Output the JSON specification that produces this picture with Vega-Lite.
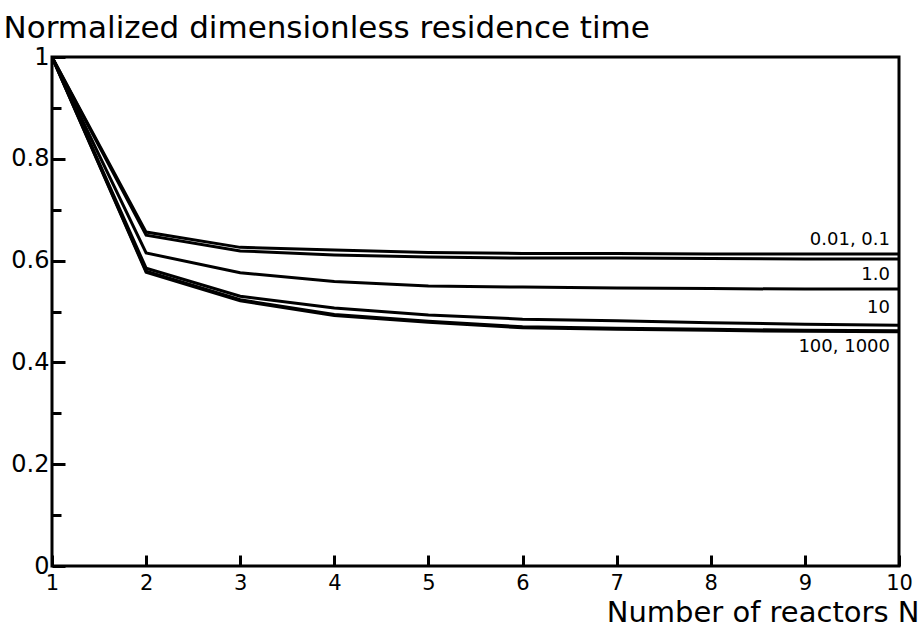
{
  "$schema": "https://vega.github.io/schema/vega-lite/v6.json",
  "width": 847,
  "height": 509,
  "autosize": {"type": "none"},
  "padding": {"left": 52, "top": 57, "right": 24, "bottom": 61},
  "background": "white",
  "config": {
    "font": "DejaVu Sans",
    "view": {"stroke": "black", "strokeWidth": 3},
    "axis": {"domain": false, "grid": false}
  },
  "datasets": {
    "curves": [
      {"series": "0.01", "N": 1, "t": 1}, {"series": "0.01", "N": 2, "t": 0.656}, {"series": "0.01", "N": 3, "t": 0.626}, {"series": "0.01", "N": 4, "t": 0.621}, {"series": "0.01", "N": 5, "t": 0.616}, {"series": "0.01", "N": 6, "t": 0.614}, {"series": "0.01", "N": 7, "t": 0.614}, {"series": "0.01", "N": 8, "t": 0.613}, {"series": "0.01", "N": 9, "t": 0.613}, {"series": "0.01", "N": 10, "t": 0.613},
      {"series": "0.1", "N": 1, "t": 1}, {"series": "0.1", "N": 2, "t": 0.650}, {"series": "0.1", "N": 3, "t": 0.619}, {"series": "0.1", "N": 4, "t": 0.611}, {"series": "0.1", "N": 5, "t": 0.607}, {"series": "0.1", "N": 6, "t": 0.605}, {"series": "0.1", "N": 7, "t": 0.605}, {"series": "0.1", "N": 8, "t": 0.604}, {"series": "0.1", "N": 9, "t": 0.603}, {"series": "0.1", "N": 10, "t": 0.603},
      {"series": "1.0", "N": 1, "t": 1}, {"series": "1.0", "N": 2, "t": 0.615}, {"series": "1.0", "N": 3, "t": 0.576}, {"series": "1.0", "N": 4, "t": 0.559}, {"series": "1.0", "N": 5, "t": 0.550}, {"series": "1.0", "N": 6, "t": 0.548}, {"series": "1.0", "N": 7, "t": 0.546}, {"series": "1.0", "N": 8, "t": 0.545}, {"series": "1.0", "N": 9, "t": 0.544}, {"series": "1.0", "N": 10, "t": 0.544},
      {"series": "10", "N": 1, "t": 1}, {"series": "10", "N": 2, "t": 0.585}, {"series": "10", "N": 3, "t": 0.530}, {"series": "10", "N": 4, "t": 0.507}, {"series": "10", "N": 5, "t": 0.493}, {"series": "10", "N": 6, "t": 0.485}, {"series": "10", "N": 7, "t": 0.482}, {"series": "10", "N": 8, "t": 0.478}, {"series": "10", "N": 9, "t": 0.475}, {"series": "10", "N": 10, "t": 0.473},
      {"series": "100", "N": 1, "t": 1}, {"series": "100", "N": 2, "t": 0.579}, {"series": "100", "N": 3, "t": 0.523}, {"series": "100", "N": 4, "t": 0.494}, {"series": "100", "N": 5, "t": 0.481}, {"series": "100", "N": 6, "t": 0.470}, {"series": "100", "N": 7, "t": 0.467}, {"series": "100", "N": 8, "t": 0.465}, {"series": "100", "N": 9, "t": 0.463}, {"series": "100", "N": 10, "t": 0.462},
      {"series": "1000", "N": 1, "t": 1}, {"series": "1000", "N": 2, "t": 0.577}, {"series": "1000", "N": 3, "t": 0.521}, {"series": "1000", "N": 4, "t": 0.492}, {"series": "1000", "N": 5, "t": 0.479}, {"series": "1000", "N": 6, "t": 0.468}, {"series": "1000", "N": 7, "t": 0.465}, {"series": "1000", "N": 8, "t": 0.463}, {"series": "1000", "N": 9, "t": 0.461}, {"series": "1000", "N": 10, "t": 0.460}
    ],
    "labels": [
      {"label": "0.01, 0.1", "N": 10, "t": 0.640},
      {"label": "1.0", "N": 10, "t": 0.572},
      {"label": "10", "N": 10, "t": 0.507},
      {"label": "100, 1000", "N": 10, "t": 0.430}
    ]
  },
  "layer": [
    {
      "data": {"name": "curves"},
      "mark": {"type": "line", "color": "black", "strokeWidth": 3, "clip": true},
      "encoding": {
        "x": {
          "field": "N", "type": "quantitative",
          "scale": {"domain": [1, 10], "nice": false, "zero": false},
          "axis": {
            "values": [1, 2, 3, 4, 5, 6, 7, 8, 9, 10],
            "format": "d",
            "tickSize": -11, "tickWidth": 3, "tickColor": "black",
            "labelFontSize": 21, "labelColor": "black", "labelPadding": 17,
            "labelFlush": false,
            "title": "Number of reactors N",
            "titleFontSize": 29, "titleFontWeight": "normal", "titleColor": "black",
            "titleAnchor": "end", "titleAlign": "right", "titleX": 867, "titleY": 55,
            "titleBaseline": "alphabetic"
          }
        },
        "y": {
          "field": "t", "type": "quantitative",
          "scale": {"domain": [0, 1], "nice": false},
          "axis": {
            "values": [0, 0.2, 0.4, 0.6, 0.8, 1],
            "format": "~g",
            "tickSize": -13, "tickWidth": 3, "tickColor": "black",
            "labelFontSize": 24, "labelColor": "black", "labelPadding": 16,
            "labelFlush": false,
            "title": "Normalized dimensionless residence time",
            "titleFontSize": 31, "titleFontWeight": "normal", "titleColor": "black",
            "titleAngle": 0, "titleAlign": "left", "titleAnchor": "start",
            "titleX": -49, "titleY": -20, "titleBaseline": "alphabetic"
          }
        },
        "detail": {"field": "series"}
      }
    },
    {
      "data": {"name": "labels"},
      "mark": {"type": "text", "align": "right", "baseline": "middle", "dx": -9, "fontSize": 18, "color": "black"},
      "encoding": {
        "x": {"field": "N", "type": "quantitative"},
        "y": {
          "field": "t", "type": "quantitative",
          "axis": {
            "orient": "left",
            "values": [0.1, 0.3, 0.5, 0.7, 0.9],
            "labels": false,
            "tickSize": -9, "tickWidth": 3, "tickColor": "black",
            "title": null
          }
        },
        "text": {"field": "label"}
      }
    }
  ],
  "resolve": {"axis": {"y": "independent"}}
}
